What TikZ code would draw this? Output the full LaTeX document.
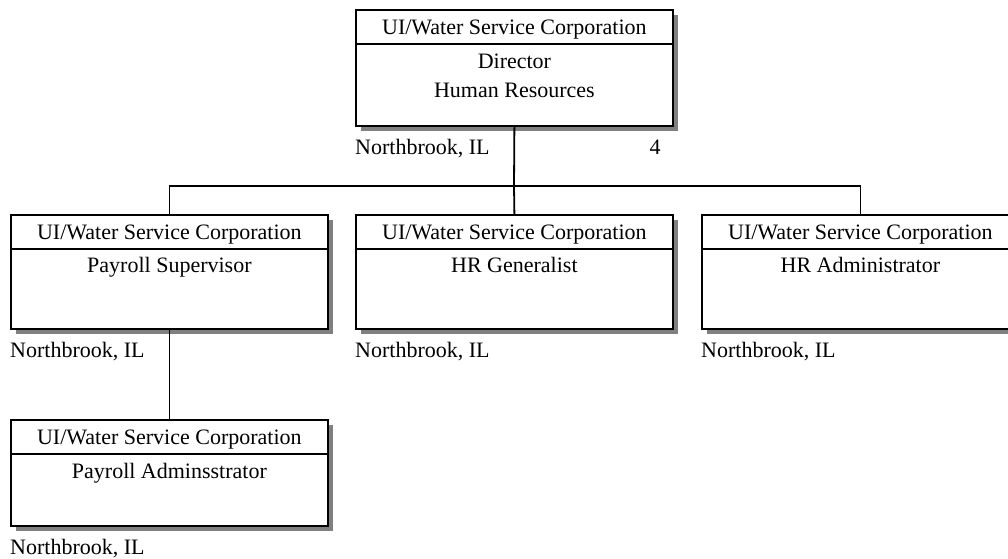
\documentclass[tikz,border=0pt]{standalone}
\usepackage{fontspec}
\setmainfont{Liberation Serif}
\usetikzlibrary{shadows}

\begin{document}
\begin{tikzpicture}[
        x=1pt, y=-1pt,
        every node/.style={font=\fontsize{22}{29}\selectfont, inner sep=0pt},
        post/.style={draw, line width=1.8pt, fill=white, anchor=north west,
            minimum width=317pt,
            drop shadow={shadow xshift=5pt, shadow yshift=-5pt, fill=gray, opacity=1}},
        firm/.style={anchor=base},
        job/.style={anchor=base, align=center},
        town/.style={anchor=base west},
        link/.style={line width=1.8pt}
    ]
    \useasboundingbox (0,0) rectangle (1008,558);
    \foreach \id/\x/\y/\h/\d/\job in {
            dir/355/9/116/88/{Director\\Human Resources},
            sup/10/214/114/58/Payroll Supervisor,
            gen/355/214/114/58/HR Generalist,
            adm/701/214/114/58/HR Administrator,
            pay/10/419/106/59/Payroll Adminsstrator}
    {
        \node[post, minimum height=\h pt] (\id) at (\x,\y) {};
        \node[firm] (\id-firm) at ([yshift=-25pt]\id.north) {UI/Water Service Corporation};
        \draw[link] ([yshift=-35pt]\id.north west) -- ([yshift=-35pt]\id.north east);
        \node[job] (\id-job) at ([yshift=-\d pt]\id.north) {\job};
        \node[town] (\id-town) at ([yshift=-28pt]\id.south west) {Northbrook, IL};
    }
    \node[anchor=base east] (dir-count) at ([xshift=-13pt,yshift=-28pt]dir.south east) {4};
    \coordinate (bus) at (514,186);
    \draw[link] (dir.south) -- (bus);
    \draw[link] (sup.north) |- (bus) -| (adm.north);
    \draw[link] (bus) -- (gen.north);
    \draw[link] (sup.south) -- (pay.north);
\end{tikzpicture}
\end{document}
